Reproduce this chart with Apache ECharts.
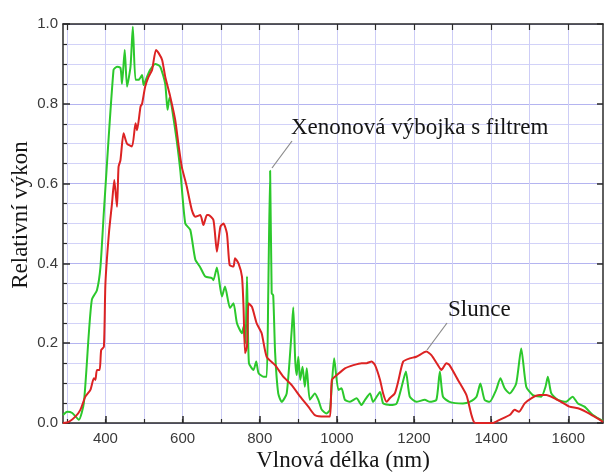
<!DOCTYPE html>
<html>
<head>
<meta charset="utf-8">
<script src="https://cdn.jsdelivr.net/npm/echarts@6/dist/echarts.min.js"></script>
<style>
  html, body { margin: 0; padding: 0; background: #fff; }
  #chart { width: 604px; height: 472px; }
</style>
</head>
<body>
<div id="chart"></div>
<script type="text/javascript">
    // xenonová výbojka s filtrem (zelená)
    var xenonNm = [290, 301, 314, 331, 344, 357, 365, 378, 387, 396, 421, 430, 439, 443, 450, 456, 465, 471, 478, 486,
        495, 499, 508, 516, 529, 542, 555, 561, 566, 581, 594, 607, 620, 633, 646, 659, 676, 680, 689, 702,
        710, 723, 732, 741, 754, 758, 763, 767, 772, 784, 791, 797, 810, 818, 822, 827, 831, 835, 840, 848,
        857, 870, 883, 887, 892, 896, 900, 905, 911, 917, 922, 930, 943, 952, 961, 973, 982, 993, 1004, 1012,
        1021, 1034, 1051, 1064, 1073, 1086, 1094, 1112, 1120, 1137, 1155, 1167, 1179, 1189, 1206, 1228, 1241, 1258, 1267, 1275,
        1292, 1327, 1344, 1362, 1372, 1383, 1396, 1413, 1424, 1435, 1448, 1465, 1478, 1491, 1508, 1530, 1541, 1547, 1556, 1573,
        1594, 1611, 1625, 1642, 1664, 1690];
    var xenonVal = [0.02, 0.028, 0.025, 0.008, 0.05, 0.225, 0.31, 0.333, 0.39, 0.53, 0.885, 0.893, 0.89, 0.85, 0.935, 0.843, 0.893, 0.993, 0.86, 0.86,
        0.872, 0.847, 0.868, 0.885, 0.9, 0.893, 0.85, 0.785, 0.815, 0.734, 0.634, 0.5, 0.484, 0.41, 0.39, 0.367, 0.363, 0.358, 0.39, 0.317,
        0.342, 0.288, 0.3, 0.25, 0.225, 0.241, 0.2, 0.367, 0.15, 0.133, 0.154, 0.125, 0.116, 0.116, 0.317, 0.632, 0.325, 0.32, 0.175, 0.074,
        0.053, 0.074, 0.233, 0.29, 0.158, 0.12, 0.166, 0.108, 0.141, 0.091, 0.137, 0.058, 0.074, 0.058, 0.033, 0.024, 0.033, 0.162, 0.083, 0.087,
        0.058, 0.053, 0.062, 0.045, 0.058, 0.074, 0.053, 0.078, 0.049, 0.045, 0.049, 0.087, 0.129, 0.066, 0.053, 0.058, 0.053, 0.058, 0.129, 0.066,
        0.053, 0.049, 0.053, 0.066, 0.099, 0.058, 0.053, 0.083, 0.112, 0.087, 0.074, 0.099, 0.187, 0.091, 0.07, 0.066, 0.091, 0.116, 0.074, 0.058,
        0.053, 0.066, 0.049, 0.041, 0.02, 0.005];

    // slunce (červená)
    var sunNm = [290, 305, 322, 335, 348, 361, 370, 374, 378, 385, 389, 396, 400, 409, 417, 423, 430, 434, 439, 447,
        456, 469, 478, 482, 491, 495, 503, 512, 521, 531, 538, 547, 555, 568, 581, 590, 598, 611, 624, 633,
        646, 654, 663, 667, 680, 689, 698, 706, 715, 722, 732, 736, 745, 754, 758, 762, 767, 771, 780, 792,
        805, 818, 840, 861, 883, 905, 926, 943, 969, 982, 987, 1000, 1021, 1043, 1064, 1077, 1090, 1099, 1112, 1120,
        1129, 1137, 1150, 1159, 1172, 1189, 1206, 1232, 1245, 1262, 1271, 1284, 1292, 1314, 1336, 1349, 1357, 1379, 1405, 1422,
        1448, 1461, 1472, 1487, 1504, 1525, 1543, 1564, 1581, 1603, 1625, 1646, 1668, 1690];
    var sunVal = [0.0, 0.003, 0.016, 0.033, 0.066, 0.083, 0.112, 0.108, 0.133, 0.133, 0.183, 0.191, 0.35, 0.475, 0.55, 0.609, 0.542, 0.642, 0.659, 0.726,
        0.7, 0.693, 0.751, 0.734, 0.793, 0.8, 0.843, 0.868, 0.885, 0.935, 0.927, 0.91, 0.868, 0.818, 0.759, 0.693, 0.642, 0.592, 0.534, 0.517,
        0.521, 0.496, 0.521, 0.521, 0.509, 0.429, 0.492, 0.5, 0.475, 0.396, 0.392, 0.413, 0.4, 0.367, 0.291, 0.175, 0.191, 0.3, 0.291, 0.25,
        0.225, 0.166, 0.145, 0.116, 0.095, 0.066, 0.041, 0.02, 0.016, 0.016, 0.108, 0.12, 0.137, 0.145, 0.15, 0.15, 0.154, 0.145, 0.108, 0.074,
        0.053, 0.062, 0.074, 0.104, 0.154, 0.162, 0.166, 0.179, 0.17, 0.145, 0.133, 0.15, 0.145, 0.108, 0.07, 0.02, 0.001, 0.0, 0.0, 0.008,
        0.02, 0.033, 0.028, 0.049, 0.062, 0.07, 0.07, 0.062, 0.053, 0.041, 0.037, 0.028, 0.016, 0.003];

    var xLabels = [400, 600, 800, 1000, 1200, 1400, 1600];
    var xGrid = [300, 400, 500, 600, 700, 800, 900, 1000, 1100, 1200, 1300, 1400, 1500, 1600];

    function zip(a, b) {
        var out = [];
        for (var i = 0; i < a.length; i++) {
            out.push([a[i], b[i]]);
        }
        return out;
    }

    var axisColor = "#2a2a2a";
    var labelFont = "'Liberation Sans', Arial, sans-serif";
    var serifFont = "'Liberation Serif', 'Times New Roman', serif";

    var myChart = echarts.init(document.getElementById("chart"));
    myChart.setOption({
        animation: false,
        grid: { left: 63, right: 1, top: 24, bottom: 49 },
        xAxis: [{
            type: "value", position: "bottom", min: 290, max: 1690,
            axisLine: { show: true, lineStyle: { color: axisColor, width: 1.5 } },
            axisTick: { show: true, inside: true, length: 7, customValues: xLabels, lineStyle: { color: axisColor, width: 1.5 } },
            axisLabel: {
                customValues: xLabels, color: "#3a3a3a", fontSize: 15, fontFamily: labelFont, margin: 8,
                formatter: function (v) { return String(v); }
            },
            splitLine: { show: false }
        }, {
            type: "value", position: "bottom", min: 290, max: 1690,
            axisLine: { show: false },
            axisTick: { show: true, inside: true, length: 4, customValues: xGrid, lineStyle: { color: axisColor, width: 1.2 } },
            axisLabel: { show: false },
            splitLine: { show: true, lineStyle: { color: "#cdcdf6", width: 1 } }
        }, {
            type: "value", position: "top", min: 290, max: 1690,
            axisLine: { show: true, lineStyle: { color: axisColor, width: 1.5 } },
            axisTick: { show: true, inside: true, length: 6, customValues: xGrid, lineStyle: { color: axisColor, width: 1.2 } },
            axisLabel: { show: false },
            splitLine: { show: false }
        }],
        yAxis: [{
            type: "value", position: "left", min: 0, max: 1, interval: 0.2,
            axisLine: { show: true, lineStyle: { color: axisColor, width: 1.5 } },
            axisTick: { show: true, inside: true, length: 7, lineStyle: { color: axisColor, width: 1.5 } },
            minorTick: { show: true, splitNumber: 4, length: 4, lineStyle: { color: axisColor, width: 1.2 } },
            axisLabel: {
                color: "#3a3a3a", fontSize: 15, fontFamily: labelFont, margin: 5,
                formatter: function (v) { return v.toFixed(1); }
            },
            splitLine: { show: true, lineStyle: { color: "#b4b4f0", width: 1.2 } },
            minorSplitLine: { show: true, lineStyle: { color: "#d2d2f8", width: 1 } }
        }, {
            type: "value", position: "right", min: 0, max: 1, interval: 0.2,
            axisLine: { show: true, lineStyle: { color: axisColor, width: 1.5 } },
            axisTick: { show: true, inside: true, length: 6, lineStyle: { color: axisColor, width: 1.5 } },
            axisLabel: { show: false },
            splitLine: { show: false }
        }],
        series: [{
            name: "Xenonová výbojka s filtrem",
            type: "line",
            data: zip(xenonNm, xenonVal),
            showSymbol: false,
            smooth: 0.2,
            lineStyle: { color: "#2cc82c", width: 2 },
            itemStyle: { color: "#2cc82c" },
            z: 3
        }, {
            name: "Slunce",
            type: "line",
            data: zip(sunNm, sunVal),
            showSymbol: false,
            smooth: 0.2,
            lineStyle: { color: "#dc2323", width: 2 },
            itemStyle: { color: "#dc2323" },
            z: 4
        }],
        graphic: [{
            type: "line", shape: { x1: 272, y1: 168, x2: 292, y2: 141 },
            style: { stroke: "#8a8a8a", lineWidth: 1.2 }, z: 10
        }, {
            type: "text", x: 291, y: 128,
            style: { text: "Xenonová výbojka s filtrem", font: "23px " + serifFont, fill: "#151515", verticalAlign: "middle" },
            z: 10
        }, {
            type: "line", shape: { x1: 427, y1: 350, x2: 447, y2: 323 },
            style: { stroke: "#8a8a8a", lineWidth: 1.2 }, z: 10
        }, {
            type: "text", x: 448, y: 310,
            style: { text: "Slunce", font: "23px " + serifFont, fill: "#151515", verticalAlign: "middle" },
            z: 10
        }, {
            type: "text", x: 343, y: 461,
            style: { text: "Vlnová délka (nm)", font: "23px " + serifFont, fill: "#151515", align: "center", verticalAlign: "middle" }
        }, {
            type: "text", x: 21, y: 215, rotation: Math.PI / 2,
            style: { text: "Relativní výkon", font: "23px " + serifFont, fill: "#151515", align: "center", verticalAlign: "middle" }
        }]
    });
</script>
</body>
</html>
